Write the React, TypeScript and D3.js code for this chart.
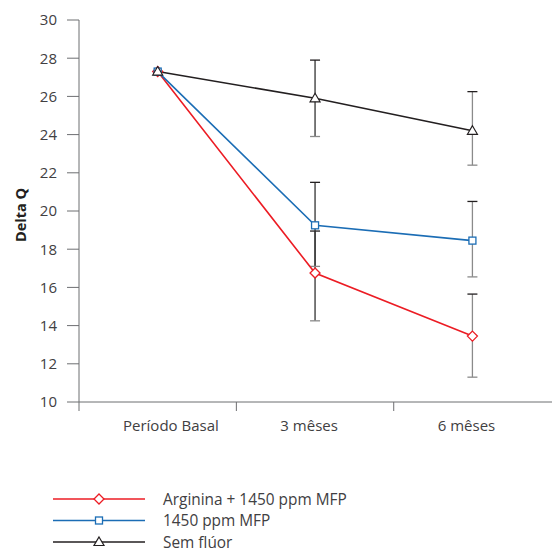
import React from "react";
import * as d3 from "d3";

const categories = ["Período Basal", "3 mêses", "6 mêses"];
const yTicks = [10, 12, 14, 16, 18, 20, 22, 24, 26, 28, 30];

const seriesNames = ["Arginina + 1450 ppm MFP", "1450 ppm MFP", "Sem flúor"];
const argininaMean = [27.3, 16.75, 13.45];
const argininaLow = [null, 14.25, 11.3];
const argininaHigh = [null, 18.95, 15.65];
const mfpMean = [27.3, 19.25, 18.45];
const mfpLow = [null, 17.1, 16.55];
const mfpHigh = [null, 21.5, 20.5];
const semMean = [27.3, 25.9, 24.2];
const semLow = [null, 23.9, 22.4];
const semHigh = [null, 27.9, 26.25];

const colors = ["#ec1c24", "#1b6db5", "#231f20"];
const markers = ["diamond", "square", "triangle"];
const errColors = ["#333", "#333", "#8a8a8a"];

const W = 552;
const H = 552;
const FONT = "'Open Sans', Lato, sans-serif";

function Marker({ type, x, y, color }: { type: string; x: number; y: number; color: string }) {
  if (type === "diamond") {
    const s = 5;
    return (
      <path
        d={`M${x},${y - s}L${x + s},${y}L${x},${y + s}L${x - s},${y}Z`}
        fill="white"
        stroke={color}
        strokeWidth={1.3}
      />
    );
  }
  if (type === "square") {
    const s = 3.5;
    return <rect x={x - s} y={y - s} width={2 * s} height={2 * s} fill="white" stroke={color} strokeWidth={1.3} />;
  }
  const s = 5;
  return (
    <path
      d={`M${x},${y - s}L${x + s},${y + s * 0.7}L${x - s},${y + s * 0.7}Z`}
      fill="white"
      stroke={color}
      strokeWidth={1.2}
    />
  );
}

export default function App() {
  const x0 = 79;
  const x1 = 552;
  const yScale = d3.scaleLinear().domain([10, 30]).range([402, 20]);
  const xBand = d3.scaleBand<string>().domain(categories).range([x0, x1 - 0.9]).padding(0);
  const xc = (c: string) => (xBand(c) as number) + xBand.bandwidth() / 2;

  const series = [
    { name: seriesNames[0], mean: argininaMean, low: argininaLow, high: argininaHigh },
    { name: seriesNames[1], mean: mfpMean, low: mfpLow, high: mfpHigh },
    { name: seriesNames[2], mean: semMean, low: semLow, high: semHigh },
  ];

  const line = d3
    .line<number>()
    .x((_, i) => xc(categories[i]))
    .y((d) => yScale(d));

  const axisColor = "#6d6e71";
  const textColor = "#414042";

  return (
    <svg width={W} height={H} style={{ position: "absolute", left: 0, top: 0 }} fontFamily={FONT}>
      <rect width={W} height={H} fill="white" />
      {/* Y axis */}
      <line x1={x0} x2={x0} y1={yScale(30)} y2={411} stroke={axisColor} strokeWidth={1} />
      {yTicks.map((t) => (
        <g key={t}>
          <line x1={67} x2={x0} y1={yScale(t)} y2={yScale(t)} stroke={axisColor} strokeWidth={1} />
          <text x={57} y={yScale(t)} dy="0.36em" textAnchor="end" fontSize={15} fill={textColor}>
            {t}
          </text>
        </g>
      ))}
      <text
        transform={`translate(26,215) rotate(-90)`}
        textAnchor="middle"
        fontSize={14.5}
        fontWeight="bold"
        fill="#231f20"
      >
        Delta Q
      </text>
      {/* X axis */}
      <line x1={x0} x2={x1} y1={yScale(10)} y2={yScale(10)} stroke={axisColor} strokeWidth={1} />
      {categories.map((c, i) =>
        i === 0 ? null : (
          <line key={c} x1={xBand(c)} x2={xBand(c)} y1={yScale(10)} y2={411} stroke={axisColor} strokeWidth={1} />
        )
      )}
      {categories.map((c) => (
        <text key={c} x={(xBand(c) as number) + 44} y={431} textAnchor="start" fontSize={15} fill={textColor}>
          {c}
        </text>
      ))}
      {/* Error bars */}
      {series.map((s, si) =>
        categories.map((c, i) => {
          const lo = s.low[i];
          const hi = s.high[i];
          if (lo == null || hi == null) return null;
          const x = xc(c);
          const col = errColors[i];
          return (
            <g key={`${si}-${i}`} stroke={col} strokeWidth={1.3}>
              <line x1={x} x2={x} y1={yScale(hi)} y2={yScale(lo)} />
              <line x1={x - 5} x2={x + 5} y1={yScale(hi)} y2={yScale(hi)} stroke="#231f20" />
              <line x1={x - 5} x2={x + 5} y1={yScale(lo)} y2={yScale(lo)} stroke="#8a8a8a" />
            </g>
          );
        })
      )}
      {/* Lines */}
      {series.map((s, si) => (
        <path key={s.name} d={line(s.mean) as string} fill="none" stroke={colors[si]} strokeWidth={1.6} />
      ))}
      {/* Markers */}
      {series.map((s, si) =>
        s.mean.map((v, i) => (
          <Marker key={`${si}-${i}`} type={markers[si]} x={xc(categories[i])} y={yScale(v)} color={colors[si]} />
        ))
      )}
      {/* Legend */}
      {series.map((s, si) => {
        const ly = 499 + si * 21.5;
        return (
          <g key={s.name}>
            <line x1={53} x2={145} y1={ly} y2={ly} stroke={colors[si]} strokeWidth={1.3} />
            <Marker type={markers[si]} x={99} y={ly} color={colors[si]} />
            <text x={163} y={ly} dy="0.36em" fontSize={15.4} fill={textColor}>
              {s.name}
            </text>
          </g>
        );
      })}
    </svg>
  );
}
